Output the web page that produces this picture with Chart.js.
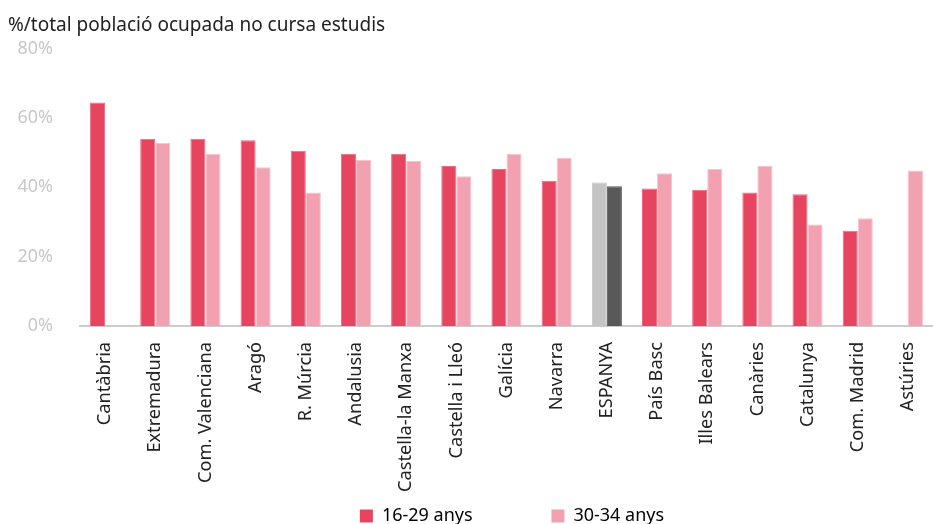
<!DOCTYPE html>
<html>
<head>
<meta charset="utf-8">
<script src="https://cdn.jsdelivr.net/npm/chart.js@4"></script>
<style>
  body { margin: 0; background: #fff; }
  #wrap { width: 933px; height: 524px; overflow: hidden; }
</style>
</head>
<body>
<div id="wrap"><canvas id="barChart"></canvas></div>
<script>
//columns
let regions = ["Cantàbria", "Extremadura", "Com. Valenciana", "Aragó", "R. Múrcia", "Andalusia",
  "Castella-la Manxa", "Castella i Lleó", "Galícia", "Navarra", "ESPANYA", "País Basc",
  "Illes Balears", "Canàries", "Catalunya", "Com. Madrid", "Astúries"]
//data collected
let young = [64.5, 54.0, 54.0, 53.6, 50.6, 49.7, 49.7, 46.2, 45.3, 41.9, 41.4, 39.7, 39.3, 38.5, 38.0, 27.5, null]
let older = [null, 52.8, 49.7, 45.8, 38.5, 48.0, 47.6, 43.2, 49.7, 48.5, 40.3, 44.1, 45.3, 46.2, 29.3, 31.1, 44.9]
let yTicks = [0, 20, 40, 60, 80]
let tableName = "%/total població ocupada no cursa estudis"

let red = "#e6445f"
let pink = "#f2a1b0"
let spainLight = "#c4c4c4"
let spainDark = "#595959"

let colorsYoung = regions.map(r => r == "ESPANYA" ? spainLight : red)
let colorsOlder = regions.map(r => r == "ESPANYA" ? spainDark : pink)
let borderYoung = regions.map(r => r == "ESPANYA" ? spainLight : "#ee6a80")
let borderOlder = regions.map(r => r == "ESPANYA" ? spainDark : "#f7c3cd")

Chart.defaults.font.family = "'Noto Sans', sans-serif"

// nudge the legend to the right like in the original
let legendShift = {
  id: "legendShift",
  afterLayout: function (c) {
    c.legend.left += 38
    c.legend.right += 38
  }
}

let myChart = document.getElementById("barChart").getContext("2d")
let chart = new Chart(myChart, {
  type: "bar",
  plugins: [legendShift],
  data: {
    labels: regions,
    datasets: [{
      label: "16-29 anys",
      data: young,
      backgroundColor: colorsYoung,
      borderColor: borderYoung,
      borderWidth: 1,
      categoryPercentage: 0.6,
      barPercentage: 1
    }, {
      label: "30-34 anys",
      data: older,
      backgroundColor: colorsOlder,
      borderColor: borderOlder,
      borderWidth: 1,
      categoryPercentage: 0.6,
      barPercentage: 1
    }]
  },
  options: {
    responsive: true,
    maintainAspectRatio: false,
    animation: false,
    layout: { padding: { left: 8, right: -7, top: 14, bottom: -11 } },
    plugins: {
      title: {
        display: true,
        text: tableName,
        align: "start",
        color: "#222",
        font: { size: 19, weight: "normal" },
        padding: { top: 0, bottom: 12 }
      },
      legend: {
        position: "bottom",
        labels: {
          color: "#222",
          boxWidth: 13,
          boxHeight: 13,
          padding: 4,
          font: { size: 18 },
          generateLabels: function (c) {
            return c.data.datasets.map((d, i) => ({
              // first item padded so the two keys sit far apart
              text: i == 0 ? d.label + "\u00a0".repeat(16) : d.label,
              fillStyle: i == 0 ? red : pink,
              strokeStyle: i == 0 ? red : pink,
              lineWidth: 0,
              datasetIndex: i
            }))
          }
        }
      },
      tooltip: { enabled: false }
    },
    scales: {
      x: {
        afterFit: function (s) {
          s.paddingLeft = 0
          s.paddingRight = 0
          s.height -= 5
        },
        grid: { display: false, drawTicks: false },
        border: { color: "#cccccc", width: 2 },
        ticks: {
          autoSkip: false,
          minRotation: 90,
          maxRotation: 90,
          color: "#222",
          font: { size: 18.2 },
          padding: 16
        }
      },
      y: {
        min: 0,
        max: 80,
        afterBuildTicks: function (s) { s.ticks = yTicks.map(v => ({ value: v })) },
        afterFit: function (s) { s.width = 72 },
        grid: { display: false, drawTicks: false },
        border: { display: false },
        ticks: {
          color: "#c8c8c8",
          font: { size: 18 },
          padding: 27,
          callback: v => v + "%"
        }
      }
    }
  }
})
</script>
</body>
</html>
